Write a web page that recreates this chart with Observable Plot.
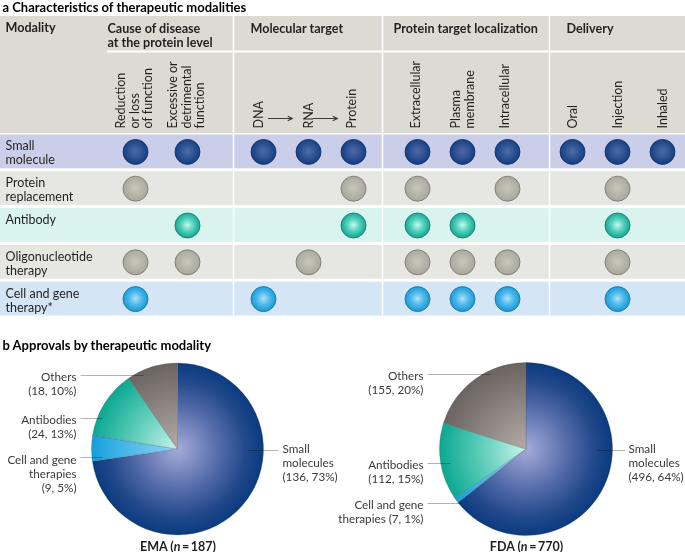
<!DOCTYPE html>
<html>
<head>
<meta charset="utf-8">
<script src="https://cdn.jsdelivr.net/npm/d3@7"></script>
<script src="https://cdn.jsdelivr.net/npm/@observablehq/plot@0.6"></script>
<style>
  body { margin: 0; background: #fff; }
  #chart svg { display: block; }
</style>
</head>
<body>
<div id="chart"></div>
<script>
// ---------------- DATA ----------------
const sectionTitles = ["a Characteristics of therapeutic modalities", "b Approvals by therapeutic modality"];
const modalityHeader = "Modality";
const groups = ["Cause of disease\nat the protein level", "Molecular target", "Protein target localization", "Delivery"];
const columns = ["Reduction\nor loss\nof function", "Excessive or\ndetrimental\nfunction", "DNA", "RNA", "Protein",
                 "Extracellular", "Plasma\nmembrane", "Intracellular", "Oral", "Injection", "Inhaled"];
const columnGroup = [0, 0, 1, 1, 1, 2, 2, 2, 3, 3, 3];
const arrowsBetween = [["DNA", "RNA"], ["RNA", "Protein"]];
const modalities = ["Small\nmolecule", "Protein\nreplacement", "Antibody", "Oligonucleotide\ntherapy", "Cell and gene\ntherapy*"];
// 1 = characteristic applies (circle), 0 = empty
const smallMolecule      = [1, 1, 1, 1, 1, 1, 1, 1, 1, 1, 1];
const proteinReplacement = [1, 0, 0, 0, 1, 1, 0, 1, 0, 1, 0];
const antibody           = [0, 1, 0, 0, 1, 1, 1, 0, 0, 1, 0];
const oligonucleotide    = [1, 1, 0, 1, 0, 1, 1, 1, 0, 1, 0];
const cellGene           = [1, 0, 1, 0, 0, 1, 1, 1, 0, 1, 0];

const agencies = ["EMA", "FDA"];
const pieCategories = ["Small molecules", "Cell and gene therapies", "Antibodies", "Others"];
const emaCounts   = [136, 9, 24, 18];
const emaPercents = [73, 5, 13, 10];
const fdaCounts   = [496, 7, 112, 155];
const fdaPercents = [64, 1, 15, 20];
const emaLabelNames = ["Small\nmolecules\n", "Cell and gene\ntherapies\n", "Antibodies\n", "Others\n"];
const fdaLabelNames = ["Small\nmolecules\n", "Cell and gene\ntherapies ", "Antibodies\n", "Others\n"];

// ---------------- LAYOUT & STYLE ----------------
const W = 685, H = 552;
const L = {
  titleA: {x: 2, y: 7}, titleB: {x: 2, y: 345},
  header: {y1: 16, y2: 133, ruleY: 51, ruleX1: 107},
  modalityLabel: {x: 5, y: 27},
  groupLabelX: [107, 250, 393, 566], groupLabelTop: 22,
  separatorsX: [233, 382, 549],
  colX: [135, 187, 263, 308, 353, 417, 462, 507, 572, 617, 662],
  colLabelDx: [-1, -1, -5, 0, -2, -2, 0, -3, 0, 0, 0],
  colLabelY: 128, arrowY: 118,
  rowTop0: 134.5, rowStep: 36.8, rowH: 33.8, rowLabelX: 5, rowLabelDy: 5.5,
  dotR: 12.5,
  pies: [
    {cx: 177.5, cy: 449, r: 86, labelX: [282, 76, 76, 76], labelY: [447, 458, 418, 375],
     leader: [[248, 278, 450], [80, 102, 457], [80, 102, 418], [80, 143, 375]], titleY: 546},
    {cx: 526, cy: 449, r: 86.5, labelX: [628, 423, 423, 423], labelY: [447, 503, 463, 374],
     leader: [[597, 625, 450], [427, 460, 503], [427, 450, 463], [427, 490, 374]], titleY: 546}
  ]
};
const headerFill = "#dcdbd3";
const rowFill = ["#cbcee9", "#e6e7e2", "#d9f3ef", "#e6e7e2", "#d4e6f5"];
const dotStops = [
  [[0, "#4d6ba8"], [1, "#143d80"]],
  [[0, "#c8c7bc"], [1, "#a8a79b"]],
  [[0, "#c4f6ee"], [0.5, "#52d0bc"], [1, "#12a48f"]],
  [[0, "#c8c7bc"], [1, "#a8a79b"]],
  [[0, "#aee2fa"], [0.5, "#4db9ea"], [1, "#1896d5"]]
];
const dotStroke = ["#0d2f66", "#75746c", "#0b7868", "#75746c", "#1472a4"];
const pieStops = [
  [[0, "#a6acda"], [0.5, "#5169a8"], [0.8, "#21488a"], [1, "#0a3b7f"]],
  [[0, "#92d5f4"], [0.7, "#3cb2e6"], [1, "#159fda"]],
  [[0, "#c8f4ec"], [0.55, "#5acbb7"], [1, "#0aa892"]],
  [[0, "#b2aba8"], [1, "#6b6360"]]
];
const textColor = "#231f20";
const pieTextColor = "#3a3a3a";
const bodySize = 12.5, pieSize = 11.7, headSize = 12.6, titleSize = 13;

// ---------------- DERIVED TABLES ----------------
const presence = [smallMolecule, proteinReplacement, antibody, oligonucleotide, cellGene];
const rowTop = i => L.rowTop0 + i * L.rowStep;
const cells = presence.flatMap((vals, row) => vals.map((v, col) => v ? {row, col} : null).filter(Boolean));
const colIndex = name => columns.indexOf(name);
const pieCounts = [emaCounts, fdaCounts];
const piePercents = [emaPercents, fdaPercents];
const pieNames = [emaLabelNames, fdaLabelNames];
const pieLabels = agencies.flatMap((a, k) => pieCategories.map((c, j) => ({
  k, j, text: pieNames[k][j] + `(${pieCounts[k][j]}, ${piePercents[k][j]}%)`
})));
const pieTitles = agencies.map((a, k) => ({k, text: `${a} (n\u2009=\u2009${d3.sum(pieCounts[k])})`}));
const leaders = pieLabels.map(d => ({...d, seg: L.pies[d.k].leader[d.j]}));

// Custom mark: gradient definitions + pie slices (positioned via the plot's scales)
function piesMark(index, scales) {
  const sx = typeof scales.x === "function" ? scales.x : (v => v);
  const sy = typeof scales.y === "function" ? scales.y : (v => v);
  const g = d3.create("svg:g");
  const defs = g.append("defs");
  dotStops.forEach((stops, i) => {
    const rg = defs.append("radialGradient").attr("id", `dot-${i}`)
      .attr("cx", "50%").attr("cy", "48%").attr("r", "52%");
    stops.forEach(([o, c]) => rg.append("stop").attr("offset", o).attr("stop-color", c));
  });
  agencies.forEach((a, k) => {
    const P = L.pies[k];
    const cx = sx(P.cx), cy = sy(P.cy), r = sx(P.cx + P.r) - sx(P.cx);
    pieCategories.forEach((c, j) => {
      // gradient centred on the pie centre (slices are drawn in a translated group)
      const rg = defs.append("radialGradient").attr("id", `pie-${k}-${j}`)
        .attr("gradientUnits", "userSpaceOnUse").attr("cx", 0).attr("cy", 0).attr("r", r);
      pieStops[j].forEach(([o, col]) => rg.append("stop").attr("offset", o).attr("stop-color", col));
    });
    const arcs = d3.pie().sort(null).value(d => d)(pieCounts[k]);
    const arc = d3.arc().innerRadius(0).outerRadius(r);
    g.append("g").attr("transform", `translate(${cx},${cy})`)
      .selectAll("path").data(arcs).join("path")
      .attr("d", arc)
      .attr("fill", (d, j) => `url(#pie-${k}-${j})`)
      .attr("stroke", "rgba(80,80,80,0.5)")
      .attr("stroke-width", 0.5);
  });
  return g.node();
}

const plot = Plot.plot({
  width: W, height: H, margin: 0,
  x: {domain: [0, W], range: [0, W], axis: null},
  y: {domain: [0, H], range: [0, H], axis: null},
  color: {type: "identity"},
  style: {fontFamily: "Lato, 'Open Sans', sans-serif", fontSize: "12px", background: "white", color: textColor},
  marks: [
    // header band
    Plot.rect([L.header], {x1: 0, x2: W, y1: d => d.y1, y2: d => d.y2, fill: headerFill}),
    Plot.ruleY([L.header], {y: d => d.ruleY, x1: d => d.ruleX1, x2: W, stroke: "white", strokeWidth: 2}),
    // row bands
    Plot.rect(modalities, {x1: 0, x2: W, y1: (d, i) => rowTop(i), y2: (d, i) => rowTop(i) + L.rowH,
      fill: (d, i) => rowFill[i]}),
    // group separators
    Plot.ruleX(L.separatorsX, {y1: L.header.y1, y2: rowTop(modalities.length - 1) + L.rowH, stroke: "white", strokeWidth: 1.5}),
    // defs + pies
    piesMark,
    // circles
    Plot.dot(cells, {x: d => L.colX[d.col], y: d => rowTop(d.row) + L.rowH / 2, r: L.dotR,
      fill: d => `url(#dot-${d.row})`, stroke: d => dotStroke[d.row], strokeWidth: 0.8}),
    // titles
    Plot.text(sectionTitles, {x: (d, i) => [L.titleA, L.titleB][i].x, y: (d, i) => [L.titleA, L.titleB][i].y,
      text: d => d, textAnchor: "start", fontWeight: "bold", fontSize: titleSize, fill: "#000"}),
    // header labels
    Plot.text([modalityHeader], {x: L.modalityLabel.x, y: L.modalityLabel.y, text: d => d, textAnchor: "start",
      fontWeight: "bold", fontSize: headSize, fill: textColor}),
    Plot.text(groups, {x: (d, i) => L.groupLabelX[i], y: L.groupLabelTop, text: d => d, textAnchor: "start",
      lineAnchor: "top", lineHeight: 1.16, fontWeight: "bold", fontSize: headSize, fill: textColor}),
    Plot.text(columns, {x: (d, i) => L.colX[i] + L.colLabelDx[i], y: L.colLabelY, text: d => d, rotate: -90,
      textAnchor: "start", lineAnchor: "middle", lineHeight: 1.08, fontSize: bodySize, fill: textColor}),
    Plot.arrow(arrowsBetween, {x1: d => L.colX[colIndex(d[0])], x2: d => L.colX[colIndex(d[1])],
      y1: L.arrowY, y2: L.arrowY, insetStart: 5, insetEnd: 16, stroke: "#3a3a3a", strokeWidth: 1.2,
      headLength: 6, headAngle: 50}),
    // row labels
    Plot.text(modalities, {x: L.rowLabelX, y: (d, i) => rowTop(i) + L.rowLabelDy, text: d => d,
      textAnchor: "start", lineAnchor: "top", lineHeight: 1.12, fontSize: bodySize, fill: textColor}),
    // pie leader lines
    Plot.link(leaders, {x1: d => d.seg[0], x2: d => d.seg[1], y1: d => d.seg[2], y2: d => d.seg[2],
      stroke: "#b3b3b3", strokeWidth: 1, mixBlendMode: "multiply"}),
    // pie labels (right side: start-anchored; left side: end-anchored)
    Plot.text(pieLabels.filter(d => d.j === 0), {x: d => L.pies[d.k].labelX[d.j], y: d => L.pies[d.k].labelY[d.j] - 4.3,
      text: "text", textAnchor: "start", lineAnchor: "top", lineHeight: 1.2, fontSize: pieSize, fill: pieTextColor}),
    Plot.text(pieLabels.filter(d => d.j !== 0), {x: d => L.pies[d.k].labelX[d.j], y: d => L.pies[d.k].labelY[d.j] - 4.3,
      text: "text", textAnchor: "end", lineAnchor: "top", lineHeight: 1.2, fontSize: pieSize, fill: pieTextColor}),
    Plot.text(pieTitles, {x: d => L.pies[d.k].cx, y: d => L.pies[d.k].titleY, text: "text",
      fontWeight: "bold", fontSize: bodySize, fill: textColor})
  ]
});

// italic "n" in the sample-size titles
d3.select(plot).selectAll("text").each(function () {
  if (this.childElementCount) return;
  const m = this.textContent.match(/^(.*\()n(\u2009=.*)$/);
  if (!m) return;
  this.textContent = "";
  const s = d3.select(this);
  s.append("tspan").text(m[1]);
  s.append("tspan").attr("font-style", "italic").text("n");
  s.append("tspan").text(m[2]);
});

document.getElementById("chart").appendChild(plot);
</script>
</body>
</html>
